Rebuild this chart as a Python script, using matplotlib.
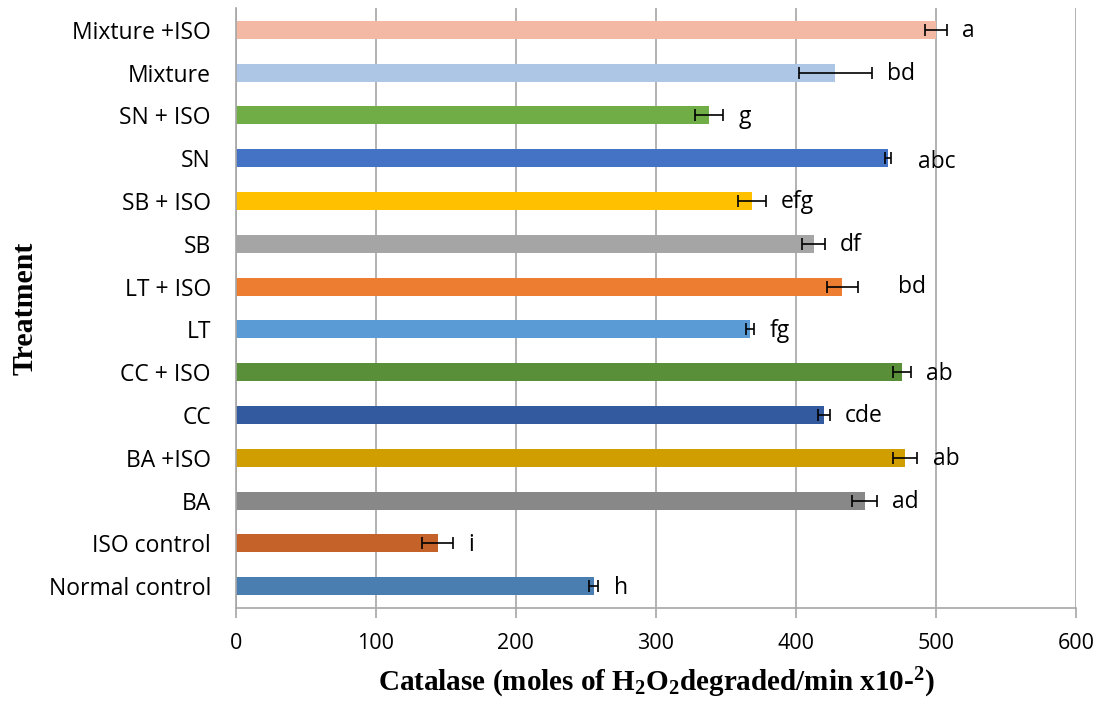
import matplotlib
matplotlib.use("Agg")
import matplotlib.pyplot as plt

# Treatments listed bottom to top
treatments = ["Normal control", "ISO control", "BA", "BA +ISO", "CC", "CC + ISO",
              "LT", "LT + ISO", "SB", "SB + ISO", "SN", "SN + ISO", "Mixture", "Mixture +ISO"]
catalase = [255.5, 144, 449, 478, 420, 475.7, 367, 433, 412.6, 368.6, 465.7, 338, 428, 500]
errors = [3.3, 11, 9, 8.7, 4, 6.5, 3, 11, 8, 10, 2, 10, 26, 8]
letters = ["h", "i", "ad", "ab", "cde", "ab", "fg", "bd", "df", "efg", "abc", "g", "bd", "a"]

colors = ["#4A7EB0", "#C4622A", "#888888", "#D19E00", "#335A9E", "#5A8F3A",
          "#5B9BD5", "#ED7D31", "#A5A5A5", "#FFC000", "#4472C4", "#70AD47",
          "#ADC6E6", "#F4B9A4"]

# extra horizontal / vertical nudges (points) for a few letter labels
label_dx = {10: 9, 7: 18}
label_dy = {10: -2, 7: 1}

plt.rcParams["mathtext.fontset"] = "custom"
plt.rcParams["mathtext.rm"] = "Liberation Serif:bold"
plt.rcParams["mathtext.it"] = "Liberation Serif:bold"
plt.rcParams["mathtext.bf"] = "Liberation Serif:bold"

fig = plt.figure(figsize=(11, 7.04), dpi=100)
ax = fig.add_axes([0.2145, 0.137, 0.7636, 0.851])

y = list(range(len(treatments)))
ax.barh(y, catalase, height=0.42, color=colors, zorder=2)
ax.errorbar(catalase, y, xerr=errors, fmt="none", ecolor="black",
            elinewidth=1.2, capsize=4.3, capthick=1.2, zorder=3)

for i, (v, e, lab) in enumerate(zip(catalase, errors, letters)):
    ax.annotate(lab, xy=(v + e, i), xytext=(11 + label_dx.get(i, 0), label_dy.get(i, 0) - 1),
                textcoords="offset points", ha="left", va="center",
                fontsize=16.5, family="Open Sans")

ax.set_xlim(0, 600)
ax.set_ylim(-0.5, len(treatments) - 0.5)
ax.set_xticks(range(0, 601, 100))
ax.set_yticks(y)
ax.set_yticklabels(treatments, fontsize=16.5, family="Open Sans")
for t in ax.get_xticklabels():
    t.set_fontsize(15.5)
    t.set_family("Open Sans")

ax.grid(axis="x", color="#A6A6A6", linewidth=1.2, zorder=0)
ax.set_axisbelow(True)
for s in ["top", "right"]:
    ax.spines[s].set_visible(False)
ax.spines["left"].set_color("#A6A6A6")
ax.spines["left"].set_linewidth(1.2)
ax.spines["bottom"].set_color("#A6A6A6")
ax.spines["bottom"].set_linewidth(1.2)
ax.tick_params(axis="x", direction="out", length=7, color="#A6A6A6", width=1.2, pad=11)
ax.tick_params(axis="y", length=0, pad=18)

ax.set_xlabel(r"Catalase (moles of H$_2$O$_2$degraded/min x10-$^2$)",
              fontsize=21, fontweight="bold", family="Liberation Serif", labelpad=9)
ax.set_ylabel("Treatment", fontsize=21.5, fontweight="bold", family="Liberation Serif",
              labelpad=7)

fig.savefig("out.png", dpi=100)
